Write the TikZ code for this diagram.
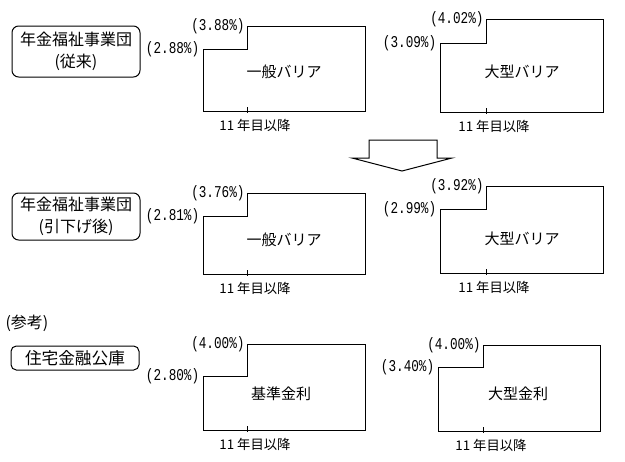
\documentclass[tikz,border=0pt]{standalone}
\usepackage{graphicx}
\usepackage{fontspec}
\newfontfamily\jp{Noto Sans CJK JP}
\newfontfamily\pctfont{Liberation Mono}
\newcommand\tallpct[1]{\scalebox{1}[1.3]{#1}}
\newcommand\mychart[9]{%
  \coordinate (#1-ll) at (#2,#7);
  \coordinate (#1-ls) at (#2,#3);
  \coordinate (#1-ss) at (#4,#3);
  \coordinate (#1-st) at (#4,#5);
  \coordinate (#1-rt) at (#6,#5);
  \coordinate (#1-rb) at (#6,#7);
  \coordinate (#1-tk) at (#4,#7);
  \draw (#1-ll) -- (#1-ls) -- (#1-ss) -- (#1-st) -- (#1-rt) -- (#1-rb) -- cycle;
  \draw ([yshift=3pt]#1-tk) -- ([yshift=-1.5pt]#1-tk);
  \node[pctlab] (#1-hi) at ([xshift=-1pt]#1-st) {\tallpct{#8}};
  \node[pctlab] (#1-lo) at ([xshift=-2pt]#1-ls) {\tallpct{#9}};
  \node[yrlab] (#1-yr) at ([xshift=6pt,yshift=-10.5pt]#1-tk) {11 年目以降};
}
\begin{document}
\begin{tikzpicture}[x=0.75pt,y=-0.75pt,line width=0.75pt,
  orgbox/.style={draw,rounded corners=5pt,minimum width=96pt,align=center,inner sep=0pt,
    font=\jp\fontsize{12}{16.5}\selectfont},
  pctlab/.style={anchor=east,inner sep=0.5pt,font=\pctfont\fontsize{9.5}{10}\selectfont},
  yrlab/.style={inner sep=0pt,font=\jp\fontsize{10}{12}\selectfont},
  ctrlab/.style={inner sep=0pt,font=\jp\fontsize{11.25}{13}\selectfont}]
\useasboundingbox (0,0) rectangle (625,461);
% row 1
\node[orgbox,minimum height=38.25pt] (b1) at (76,51.5) {年金福祉事業団\\(従来)};
\mychart{c11}{203}{49}{247}{26}{365}{111}{(3.88\%)}{(2.88\%)}
\node[ctrlab] (t11) at (284,72) {一般バリア};
\mychart{c12}{440}{43}{486}{19}{603}{112}{(4.02\%)}{(3.09\%)}
\node[ctrlab] (t12) at (522,72) {大型バリア};
% arrow
\draw (369,140) -- (369,158) -- (352,158) -- (402,171) -- (452,158) -- (437,158) -- (437,140) -- cycle;
% row 2
\node[orgbox,minimum height=35.25pt] (b2) at (76,216.5) {年金福祉事業団\\(引下げ後)};
\mychart{c21}{203}{216}{247}{193}{365}{274}{(3.76\%)}{(2.81\%)}
\node[ctrlab] (t21) at (284,240) {一般バリア};
\mychart{c22}{440}{209}{486}{186}{603}{273}{(3.92\%)}{(2.99\%)}
\node[ctrlab] (t22) at (522,239) {大型バリア};
% row 3
\node[inner sep=0pt,font=\jp\fontsize{12}{14}\selectfont,anchor=west] (ref) at (5,323) {(参考)};
\node[orgbox,minimum height=18pt,rounded corners=4pt,font=\jp\fontsize{12.5}{14}\selectfont] (b3) at (75,358) {住宅金融公庫};
\mychart{c31}{203}{376}{247}{344}{365}{430}{(4.00\%)}{(2.80\%)}
\node[ctrlab] (t31) at (281,394) {基準金利};
\mychart{c32}{438}{367}{483}{345}{600}{431}{(4.00\%)}{(3.40\%)}
\node[ctrlab] (t32) at (518,394) {大型金利};
\end{tikzpicture}
\end{document}
